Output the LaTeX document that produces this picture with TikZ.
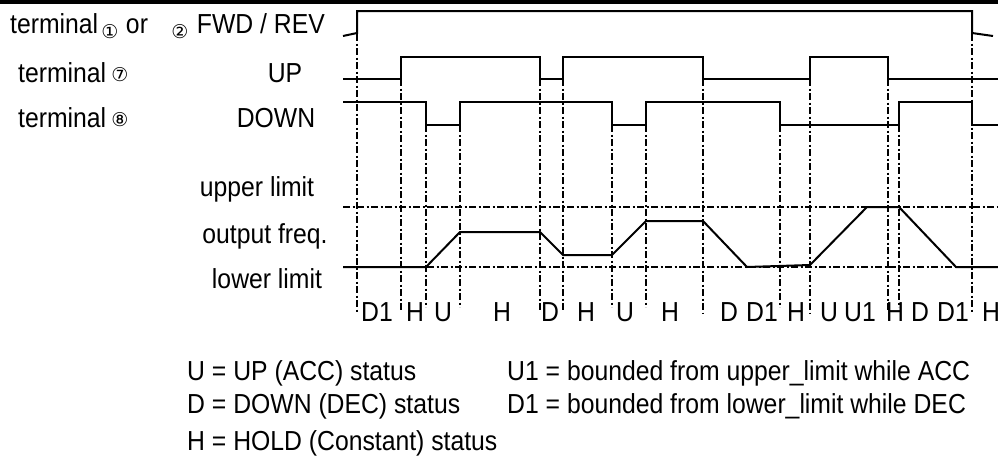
\documentclass[tikz,border=0pt]{standalone}
\usepackage{fontspec}
\setmainfont{Liberation Sans}[FakeStretch=0.9]
\newfontfamily\circfont{DejaVu Sans}
\usetikzlibrary{positioning}

\begin{document}
\begin{tikzpicture}[x=1pt, y=-1pt,
    txt/.style={inner sep=0pt, anchor=base, font=\fontsize{27.5}{30}\selectfont},
    txtw/.style={txt, anchor=base west},
    txte/.style={txt, anchor=base east},
    tnum/.style={inner sep=0pt, font=\circfont\fontsize{19}{19}\selectfont},
    sig/.style={line width=2pt, line join=miter},
    guide/.style={line width=1.3pt, dash pattern=on 7pt off 2.5pt on 2pt off 2.5pt}
]
\useasboundingbox (0,0) rectangle (998,455);

% top rule
\fill (0,0) rectangle (998,4);

% Signal names
\node[txtw] (fwdterm) at (10,33) {terminal};
\node[tnum] (fwdone) at (110,32) {①};
\node[txt] (fwdor) at (137,33) {or};
\node[tnum] (fwdtwo) at (180,32) {②};
\node[txte] (fwdname) at (325,33) {FWD / REV};
\node[txtw] (upterm) at (18,82) {terminal};
\node[tnum] (upnum) at (120,75) {⑦};
\node[txt] (upname) at (285,82) {UP};
\node[txtw] (dnterm) at (18,127) {terminal};
\node[tnum] (dnnum) at (120,120) {⑧};
\node[txt] (dnname) at (276,127) {DOWN};
\node[txt] (ullbl) at (257,196) {upper limit};
\node[txt] (frlbl) at (265,243) {output freq.};
\node[txt] (lllbl) at (267,288) {lower limit};

% Guides
\foreach \x/\ya/\yb in {357/34/313, 401/79/312, 426/125/307, 460/125/307,
    540/79/312, 563/79/312, 612/125/307, 646/125/307, 703/79/313,
    780/125/307, 810/79/313, 888/79/312, 899/125/307, 972/34/313}
  \draw[guide] (\x,\ya) -- (\x,\yb);
\draw[guide] (343,207) -- (998,207);
\draw[guide] (343,267) -- (998,267);

% Waveforms
\draw[sig] (343,36) -- (357,33) -- (357,11) -- (972,11) -- (972,33) -- (993,36);
\draw[sig] (343,79) -- (401,79) -- (401,57) -- (540,57) -- (540,79) -- (563,79)
  -- (563,57) -- (703,57) -- (703,79) -- (810,79) -- (810,57) -- (888,57)
  -- (888,79) -- (998,79);
\draw[sig] (343,102) -- (426,102) -- (426,125) -- (460,125) -- (460,102)
  -- (612,102) -- (612,125) -- (646,125) -- (646,102) -- (780,102)
  -- (780,125) -- (899,125) -- (899,102) -- (972,102) -- (972,125) -- (998,125);
\draw[sig] (343,267) -- (426,267) -- (460,232) -- (540,232) -- (563,255)
  -- (612,255) -- (646,221) -- (703,221) -- (747,267) -- (810,265)
  -- (867,207) -- (899,207) -- (956,267) -- (998,267);

% Status letters
\foreach \x/\s [count=\i] in {377/D1, 415/H, 443/U, 502/H, 550/D, 586/H,
    625/U, 670/H, 729/D, 762/D1, 796/H, 829/U, 860/U1, 895/H, 920/D,
    953/D1, 991/H}
  \node[txt] (st\i) at (\x,321) {\s};

% Legend
\node[txtw] (legu) at (187,380) {U = UP (ACC) status};
\node[txtw] (legd) at (187,413) {D = DOWN (DEC) status};
\node[txtw] (legh) at (187,450) {H = HOLD (Constant) status};
\node[txtw] (legua) at (507,380) {U1 = bounded from upper\_limit while ACC};
\node[txtw] (legda) at (507,413) {D1 = bounded from lower\_limit while DEC};

\end{tikzpicture}
\end{document}
